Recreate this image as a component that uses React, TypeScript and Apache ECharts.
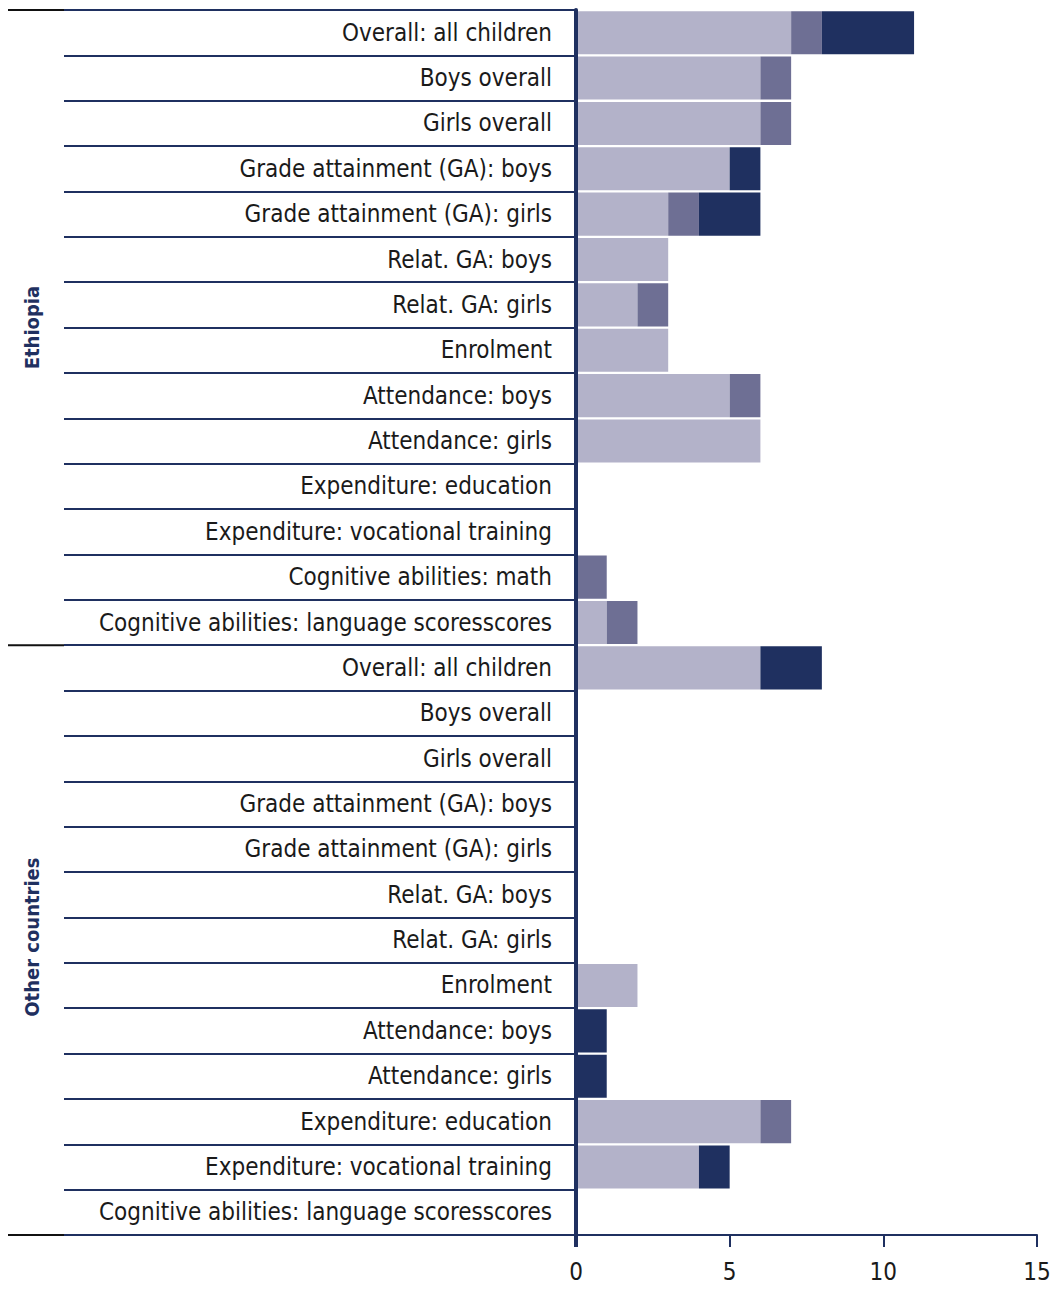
import React, { useEffect, useRef } from "react";
import * as echarts from "echarts";

const groups = ["Ethiopia", "Other countries"];

const ethiopiaRows = [
  "Overall: all children",
  "Boys overall",
  "Girls overall",
  "Grade attainment (GA): boys",
  "Grade attainment (GA): girls",
  "Relat. GA: boys",
  "Relat. GA: girls",
  "Enrolment",
  "Attendance: boys",
  "Attendance: girls",
  "Expenditure: education",
  "Expenditure: vocational training",
  "Cognitive abilities: math",
  "Cognitive abilities: language scoresscores",
];
const otherRows = [
  "Overall: all children",
  "Boys overall",
  "Girls overall",
  "Grade attainment (GA): boys",
  "Grade attainment (GA): girls",
  "Relat. GA: boys",
  "Relat. GA: girls",
  "Enrolment",
  "Attendance: boys",
  "Attendance: girls",
  "Expenditure: education",
  "Expenditure: vocational training",
  "Cognitive abilities: language scoresscores",
];

// values per row (Ethiopia then Other countries)
const lightValues = [7, 6, 6, 5, 3, 3, 2, 3, 5, 6, 0, 0, 0, 1, 6, 0, 0, 0, 0, 0, 0, 2, 0, 0, 6, 4, 0];
const mediumValues = [1, 1, 1, 0, 1, 0, 1, 0, 1, 0, 0, 0, 1, 1, 0, 0, 0, 0, 0, 0, 0, 0, 0, 0, 1, 0, 0];
const darkValues = [3, 0, 0, 1, 2, 0, 0, 0, 0, 0, 0, 0, 0, 0, 2, 0, 0, 0, 0, 0, 0, 0, 1, 1, 0, 1, 0];

const xTicks = [0, 5, 10, 15];

const NAVY = "#1f3060";
const LIGHT = "#b3b2c9";
const MEDIUM = "#6e6f94";
const FONT = "DejaVu Sans Condensed";

export default function App() {
  const ref = useRef<HTMLDivElement>(null);
  useEffect(() => {
    document.body.style.margin = "0";
    const chart = echarts.init(ref.current!, null, { renderer: "svg" });
    const cats = [
      ...ethiopiaRows.map((r, i) => `E${i}|${r}`),
      ...otherRows.map((r, i) => `O${i}|${r}`),
    ];
    const mk = (name: string, data: number[], color: string) => ({
      name,
      type: "bar",
      stack: "total",
      data,
      barCategoryGap: "5%",
      itemStyle: { color },
      silent: true,
    });
    chart.setOption({
      animation: false,
      grid: { left: 576, right: 17, top: 10, bottom: 54 },
      xAxis: {
        type: "value",
        min: xTicks[0],
        max: xTicks[xTicks.length - 1],
        interval: xTicks[1] - xTicks[0],
        splitLine: { show: false },
        axisLine: { show: true, lineStyle: { color: NAVY, width: 2 } },
        axisTick: { show: true, length: 12, lineStyle: { color: NAVY, width: 2 } },
        axisLabel: { fontSize: 24, color: "#1a1a1a", margin: 25, fontFamily: FONT },
      },
      yAxis: {
        type: "category",
        inverse: true,
        data: cats,
        z: 5,
        axisLine: { show: true, lineStyle: { color: NAVY, width: 4 } },
        axisTick: {
          show: true,
          length: 512,
          interval: 0,
          lineStyle: { color: NAVY, width: 2 },
        },
        axisLabel: {
          interval: 0,
          fontSize: 24,
          color: "#1a1a1a",
          margin: 24,
          fontFamily: FONT,
          formatter: (v: string) => v.split("|")[1],
        },
      },
      series: [
        mk("Light", lightValues, LIGHT),
        mk("Medium", mediumValues, MEDIUM),
        mk("Dark", darkValues, NAVY),
      ],
    });

    const p0 = chart.convertToPixel({ yAxisIndex: 0 }, 0) as number;
    const p1 = chart.convertToPixel({ yAxisIndex: 0 }, 1) as number;
    const band = p1 - p0;
    const top = p0 - band / 2;
    const nE = ethiopiaRows.length;
    const nO = otherRows.length;
    const mid = top + nE * band;
    const bottom = top + (nE + nO) * band;
    const x0 = chart.convertToPixel({ xAxisIndex: 0 }, 0) as number;
    const tickLeft = x0 - 512;

    const blackLine = (y: number) => ({
      type: "line",
      shape: { x1: 8, y1: y, x2: tickLeft, y2: y },
      style: { stroke: "#111", lineWidth: 2 },
      silent: true,
    });
    chart.setOption({
      graphic: [
        blackLine(top),
        blackLine(mid),
        blackLine(bottom),
        {
          type: "line",
          shape: { x1: x0, y1: bottom, x2: x0, y2: bottom + 12 },
          style: { stroke: NAVY, lineWidth: 4 },
          silent: true,
        },
        {
          type: "text",
          x: 32,
          y: (top + mid) / 2,
          rotation: Math.PI / 2,
          style: {
            text: groups[0],
            fill: NAVY,
            font: `bold 20px "${FONT}"`,
            align: "center",
            verticalAlign: "middle",
          },
          silent: true,
        },
        {
          type: "text",
          x: 32,
          y: (mid + bottom) / 2 - 3,
          rotation: Math.PI / 2,
          style: {
            text: groups[1],
            fill: NAVY,
            font: `bold 20px "${FONT}"`,
            align: "center",
            verticalAlign: "middle",
          },
          silent: true,
        },
      ],
    });
    return () => chart.dispose();
  }, []);
  return <div ref={ref} style={{ width: 1054, height: 1289 }} />;
}
